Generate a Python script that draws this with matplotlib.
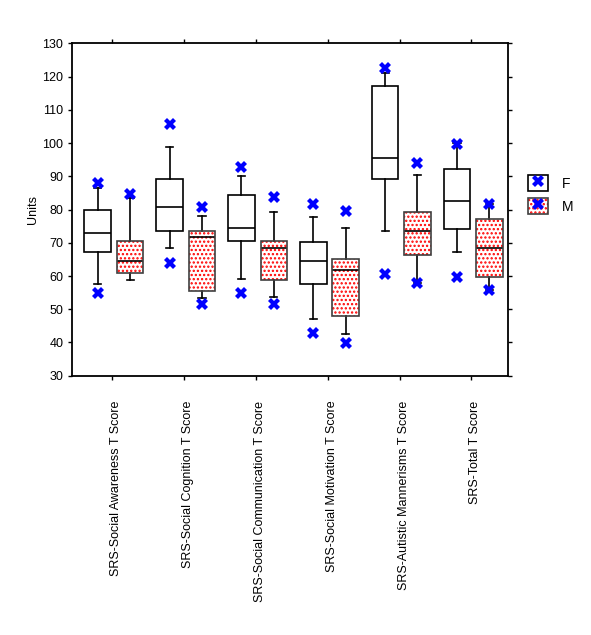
import numpy as np
import matplotlib
matplotlib.use('Agg')
import matplotlib.pyplot as plt
from matplotlib.patches import Rectangle
from matplotlib.lines import Line2D
from matplotlib.transforms import ScaledTranslation

plt.rcParams['font.family'] = ['Liberation Sans', 'DejaVu Sans']
plt.rcParams['hatch.linewidth'] = 1.1

categories = ['SRS-Social Awareness T Score', 'SRS-Social Cognition T Score',
              'SRS-Social Communication T Score', 'SRS-Social Motivation T Score',
              'SRS-Autistic Mannerisms T Score', 'SRS-Total T Score']

# F group: whisker low, q1, median, q3, whisker high, extreme low/high (x markers)
f_lo = [57.6, 68.5, 59.2, 47.1, 73.6, 67.1]
f_q1 = [67.1, 73.5, 70.6, 57.6, 89.3, 74.0]
f_med = [72.9, 80.8, 74.5, 64.5, 95.5, 82.7]
f_q3 = [79.8, 89.3, 84.4, 70.2, 117.3, 92.1]
f_hi = [86.5, 98.7, 90.2, 77.7, 121.0, 99.9]
f_min = [54.8, 63.8, 54.8, 43.0, 60.5, 59.8]
f_max = [87.9, 105.7, 92.9, 81.7, 122.7, 99.7]

# M group
m_lo = [58.8, 53.5, 53.8, 42.6, 57.8, 55.8]
m_q1 = [60.9, 55.5, 58.8, 48.1, 66.2, 59.6]
m_med = [64.5, 71.6, 68.5, 61.7, 73.6, 68.5]
m_q3 = [70.5, 73.5, 70.5, 65.2, 79.3, 77.2]
m_hi = [83.4, 78.1, 79.4, 74.5, 90.5, 81.6]
m_min = [np.nan, 51.6, 51.6, 39.7, 57.8, 55.8]
m_max = [84.8, 80.8, 83.7, 79.5, 94.0, 81.6]


def make_stats(lo, q1, med, q3, hi):
    return [dict(whislo=a, q1=b, med=c, q3=d, whishi=e, fliers=[])
            for a, b, c, d, e in zip(lo, q1, med, q3, hi)]


x = np.arange(len(categories))
f_pos = x - 0.2
m_pos = x + 0.25
width = 0.37
dots = '....'

fig = plt.figure(figsize=(5.91, 6.35), dpi=100)
ax = fig.add_axes([0.1223, 0.4083, 0.7373, 0.5235])

line = dict(color='black', linewidth=1.2)
ax.bxp(make_stats(f_lo, f_q1, f_med, f_q3, f_hi), positions=f_pos, widths=width,
       showfliers=False, patch_artist=True, capwidths=0.1,
       boxprops=dict(facecolor='white', edgecolor='black', linewidth=1.2),
       whiskerprops=line, capprops=line, medianprops=line)

ax.bxp(make_stats(m_lo, m_q1, m_med, m_q3, m_hi), positions=m_pos, widths=width,
       showfliers=False, patch_artist=True, capwidths=0.1,
       boxprops=dict(facecolor='white', edgecolor='red', hatch=dots, linewidth=0),
       whiskerprops=line, capprops=line, medianprops=line)
for p, a, b in zip(m_pos, m_q1, m_q3):
    ax.add_patch(Rectangle((p - width / 2, a), width, b - a, fill=False,
                           edgecolor='#404040', linewidth=1.2, zorder=2.5))

ax.plot(f_pos, f_max, 'X', color='blue', markersize=8, mew=0, zorder=4)
ax.plot(f_pos, f_min, 'X', color='blue', markersize=8, mew=0, zorder=4)
ax.plot(m_pos, m_max, 'X', color='blue', markersize=8, mew=0, zorder=4)
ax.plot(m_pos, m_min, 'X', color='blue', markersize=8, mew=0, zorder=4)

ax.set_xlim(-0.555, 5.51)
ax.set_ylim(30, 130)
ax.set_yticks(np.arange(30, 131, 10))
ax.set_xticks(x)
ax.set_xticklabels(categories, rotation=90, fontsize=9)
ax.tick_params(axis='y', labelsize=9, length=3, width=1, right=True)
ax.tick_params(axis='x', length=3, width=1, top=True, pad=15)
# labels sit a little right of the ticks in the original
for lab in ax.get_xticklabels():
    lab.set_transform(lab.get_transform() + ScaledTranslation(0.04, 0, fig.dpi_scale_trans))
ax.set_ylabel('Units', fontsize=9, labelpad=2)
for s in ax.spines.values():
    s.set_linewidth(1.3)

h_f = (Rectangle((0, 0), 1, 1, facecolor='white', edgecolor='black', linewidth=1.2),
       Line2D([], [], marker='X', color='blue', linestyle='none', markersize=8, mew=0))
h_m = (Rectangle((0, 0), 1, 1, facecolor='white', edgecolor='red', hatch=dots, linewidth=0),
       Rectangle((0, 0), 1, 1, fill=False, edgecolor='#404040', linewidth=1.2),
       Line2D([], [], marker='X', color='blue', linestyle='none', markersize=8, mew=0))
fig.legend([h_f, h_m], ['F', 'M'], loc='upper left', bbox_to_anchor=(0.8934, 0.7244),
           frameon=False, fontsize=10, handlelength=1.45, handleheight=1.45,
           labelspacing=0.45, handletextpad=1.0, borderpad=0, borderaxespad=0)

fig.savefig('out.png', dpi=100)
